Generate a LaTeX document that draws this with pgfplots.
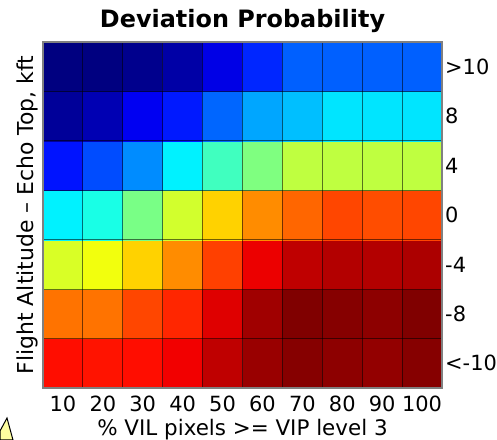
\documentclass[border=0pt]{standalone}
\usepackage{pgfplots}
\pgfplotsset{compat=1.18}
\usepackage{fontspec}
\setmainfont{DejaVu Sans}
\pgfplotstableread{
x y c
10 1 6.90
20 1 6.85
30 1 6.90
40 1 7.10
50 1 7.50
60 1 7.80
70 1 7.95
80 1 7.90
90 1 7.85
100 1 7.95
10 2 6.10
20 2 6.10
30 2 6.45
40 2 6.70
50 2 7.25
60 2 7.75
70 2 8.00
80 2 7.95
90 2 7.90
100 2 8.00
10 3 4.70
20 3 4.90
30 3 5.35
40 3 5.90
50 3 6.50
60 3 7.15
70 3 7.50
80 3 7.60
90 3 7.60
100 3 7.65
10 4 2.90
20 4 3.20
30 4 3.95
40 4 4.65
50 4 5.35
60 4 5.90
70 4 6.20
80 4 6.45
90 4 6.40
100 4 6.45
10 5 1.15
20 5 1.60
30 5 2.10
40 5 2.90
50 5 3.50
60 5 4.00
70 5 4.50
80 5 4.50
90 5 4.50
100 5 4.50
10 6 0.20
20 6 0.40
30 6 0.90
40 6 1.20
50 6 1.80
60 6 2.30
70 6 2.50
80 6 2.80
90 6 2.80
100 6 2.80
10 7 0.00
20 7 0.00
30 7 0.10
40 7 0.30
50 7 0.80
60 7 1.30
70 7 1.75
80 7 1.75
90 7 1.75
100 7 1.75
}\devdata
\begin{document}
\begin{tikzpicture}[x=1bp,y=1bp]
\useasboundingbox (0,0) rectangle (497,440);
\begin{axis}[
  at={(43bp,52bp)}, anchor=south west,
  scale only axis, width=399bp, height=346bp,
  xmin=5, xmax=105, ymin=0.5, ymax=7.5,
  colormap/jet, point meta min=0, point meta max=8,
  xtick={10,20,...,100},
  ytick={1,2,3,4,5,6,7},
  yticklabels={{<-10},{-8},{-4},{0},{4},{8},{>10}},
  yticklabel pos=right,
  /pgf/number format/assume math mode=true,
  major tick length=0pt, minor tick length=0pt,
  minor xtick={15,25,...,95},
  minor ytick={1.5,2.5,...,6.5},
  xminorgrids, yminorgrids,
  minor grid style={black, opacity=0.55, line width=0.9bp},
  axis on top,
  axis line style={draw=gray, line width=1.5bp},
  tick label style={font=\fontsize{21}{24}\selectfont},
  xticklabel style={anchor=base, yshift=-24bp, inner sep=0pt},
  yticklabel style={anchor=west, xshift=3bp, inner sep=0pt},
  title={\textbf{Deviation Probability}},
  title style={at={(axis description cs:0.5,1.026)}, anchor=base, font=\fontsize{24}{27}\selectfont, inner sep=0pt},
  xlabel={\% VIL pixels >= VIP level 3},
  xlabel style={at={(axis description cs:0.5,-0.136)}, anchor=base, font=\fontsize{21.5}{24}\selectfont, inner sep=0pt},
  ylabel={Flight Altitude – Echo Top, kft},
  ylabel style={at={(axis description cs:-0.025,0.5)}, anchor=base, font=\fontsize{22}{24}\selectfont, inner sep=0pt},
]
\addplot[matrix plot*, mesh/cols=10, point meta=explicit] table[x=x, y=y, meta=c] {\devdata};
\end{axis}
\filldraw[fill={rgb,255:red,255;green,255;blue,160}, draw=black, line width=1bp] (0,9) -- (7,22) -- (13,0) -- (0,0) -- cycle;
\end{tikzpicture}
\end{document}
